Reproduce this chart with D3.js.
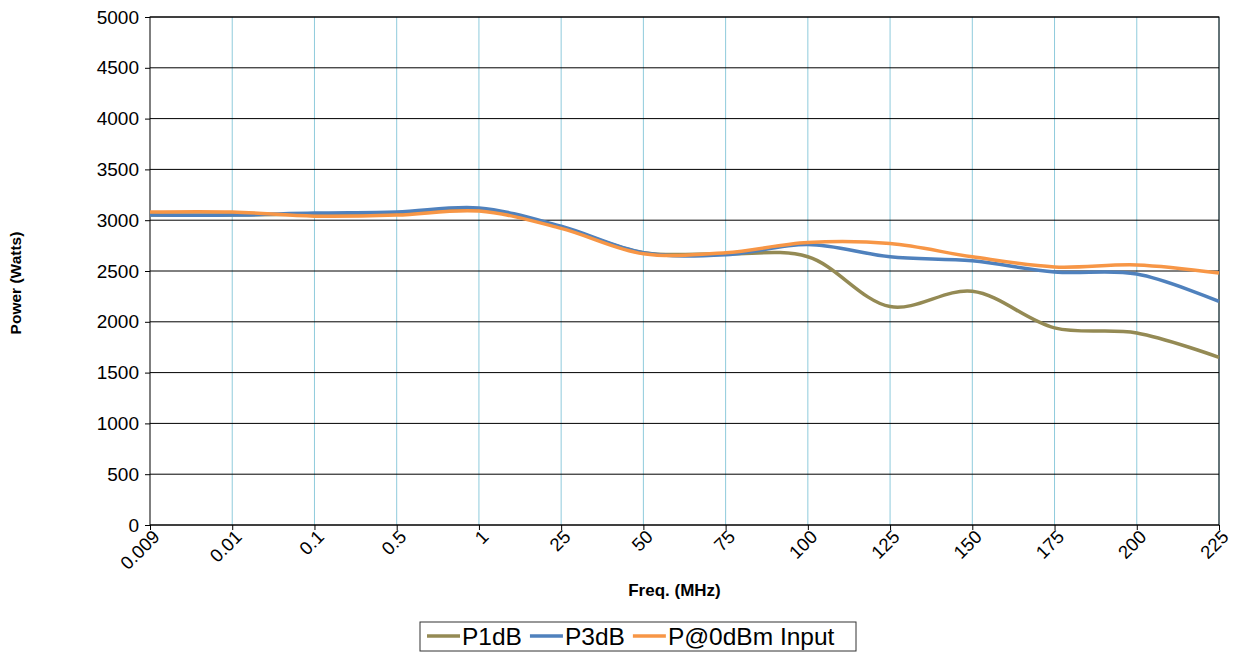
<!DOCTYPE html>
<html><head><meta charset="utf-8">
<script src="https://cdn.jsdelivr.net/npm/d3@7"></script>
<style>body{margin:0;background:#fff}text{font-family:Arial,"Liberation Sans",sans-serif}</style>
</head><body><svg id="c" width="1233" height="654"></svg>
<script>
const freqs = ["0.009","0.01","0.1","0.5","1","25","50","75","100","125","150","175","200","225"];
const p1dB = [3050,3050,3060,3070,3110,2930,2680,2670,2640,2150,2300,1940,1890,1650];
const p3dB = [3050,3050,3070,3080,3120,2940,2680,2660,2760,2640,2600,2490,2470,2200];
const p0dBm = [3080,3080,3040,3050,3090,2920,2670,2680,2780,2770,2640,2540,2560,2480];
const yTicks = d3.range(0, 5001, 500);

const svg = d3.select("#c");
const L = 150, R = 1219, T = 17, B = 525;
const x = d3.scalePoint().domain(freqs).range([L, R]);
const y = d3.scaleLinear().domain([0, 5000]).range([B, T]);

// vertical grid
svg.append("g").selectAll("line").data(freqs.slice(1)).join("line")
  .attr("x1", d => x(d)).attr("x2", d => x(d)).attr("y1", T).attr("y2", B)
  .attr("stroke", "#8fcbdc").attr("stroke-width", 1);
// horizontal grid
svg.append("g").selectAll("line").data(yTicks).join("line")
  .attr("x1", L).attr("x2", R).attr("y1", d => y(d)).attr("y2", d => y(d))
  .attr("stroke", "#000").attr("stroke-width", 1);
svg.append("rect").attr("x", L).attr("y", T).attr("width", R - L).attr("height", B - T)
  .attr("fill", "none").attr("stroke", "#000");

// y axis
const ya = svg.append("g").attr("transform", `translate(${L},0)`)
  .call(d3.axisLeft(y).tickValues(yTicks).tickFormat(d3.format("d")).tickSize(5).tickPadding(6));
ya.select(".domain").remove();
ya.selectAll("text").attr("font-size", 19).attr("fill", "#000")
  .style("font-family", "Arial, Liberation Sans, sans-serif");
// x axis
const xa = svg.append("g").attr("transform", `translate(0,${B})`)
  .call(d3.axisBottom(x).tickSize(5).tickSizeOuter(0));
xa.select(".domain").remove();
xa.selectAll("text").attr("font-size", 18.5).attr("fill", "#000")
  .style("font-family", "Arial, Liberation Sans, sans-serif")
  .attr("text-anchor", "end").attr("x", -2).attr("y", 10).attr("dy", "0.35em")
  .attr("transform", "rotate(-45)");

svg.append("text").attr("x", (L + R) / 2 - 10).attr("y", 596).attr("text-anchor", "middle")
  .attr("font-size", 17).attr("font-weight", "bold").text("Freq. (MHz)");
svg.append("text").attr("transform", `translate(21,${(T + B) / 2 + 12}) rotate(-90)`)
  .attr("text-anchor", "middle").attr("font-size", 15.5).attr("font-weight", "bold").text("Power (Watts)");

const series = [
  {name: "P1dB", vals: p1dB, color: "#948a54"},
  {name: "P3dB", vals: p3dB, color: "#4f81bd"},
  {name: "P@0dBm Input", vals: p0dBm, color: "#f79646"}
];
const line = d3.line().x((d, i) => x(freqs[i])).y(d => y(d)).curve(d3.curveCatmullRom.alpha(0.5));
series.forEach(s => svg.append("path").attr("d", line(s.vals)).attr("fill", "none")
  .attr("stroke", s.color).attr("stroke-width", 3.5));

// legend
const lg = svg.append("g");
lg.append("rect").attr("x", 420).attr("y", 622).attr("width", 436).attr("height", 29)
  .attr("fill", "#fff").attr("stroke", "#333");
let lx = 427;
series.forEach(s => {
  lg.append("line").attr("x1", lx).attr("x2", lx + 33).attr("y1", 636).attr("y2", 636)
    .attr("stroke", s.color).attr("stroke-width", 3.5);
  const t = lg.append("text").attr("x", lx + 35).attr("y", 645).attr("font-size", 24.5).text(s.name);
  lx += 35 + t.node().getComputedTextLength() + 8;
});
</script></body></html>
